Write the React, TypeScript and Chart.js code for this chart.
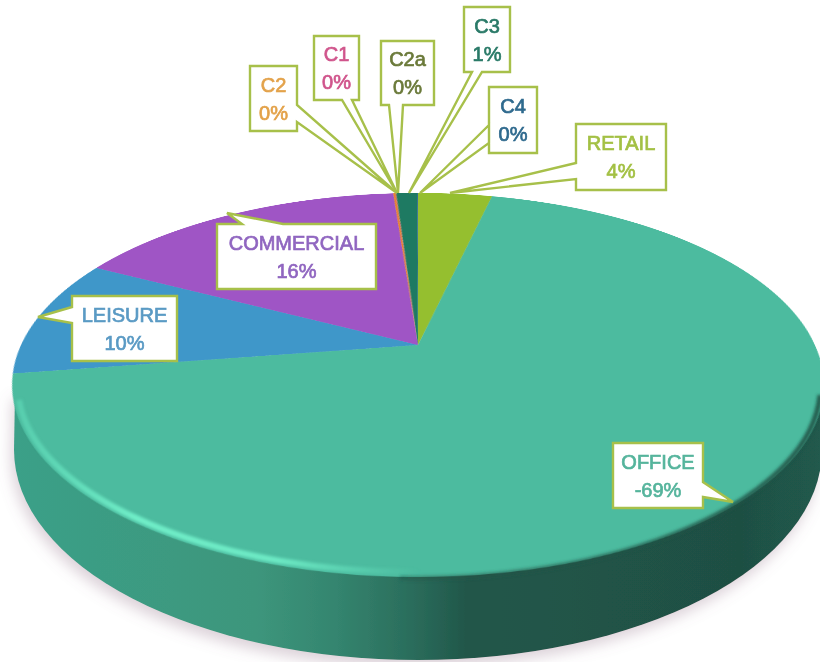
import React, { useEffect, useRef } from "react";
import { Chart, registerables } from "chart.js";

Chart.register(...registerables);

// ---- data (clockwise from 12 o'clock) ----
const categories = ["RETAIL", "OFFICE", "LEISURE", "COMMERCIAL", "C2", "C1", "C2a", "C3", "C4"];
const shares = [3.6, 69, 10, 16.2, 0.1, 0.03, 0.03, 1, 0.04];
const percentLabels = ["4%", "-69%", "10%", "16%", "0%", "0%", "0%", "1%", "0%"];
const sliceColors = ["#95bf2f", "#4cbb9f", "#3f97c9", "#9f55c5", "#e8842a", "#d0558c", "#6b7a3a", "#1e7a62", "#2f6a8e"];
const textColors = ["#a3c044", "#55b49c", "#5a9ac4", "#9066c0", "#e3a24a", "#d0558c", "#6b7a3a", "#2a7a68", "#2f6a8e"];

// ---- callout geometry ----
type Callout = { box: [number, number, number, number]; wedge: number[][] };
const callouts: Record<string, Callout> = {
  RETAIL: { box: [576, 124, 666, 190], wedge: [[576, 179], [450, 193], [576, 163]] },
  OFFICE: { box: [613, 443, 703, 508], wedge: [[703, 482], [733, 502], [703, 497]] },
  LEISURE: { box: [72, 296, 177, 361], wedge: [[72, 323], [38, 317], [72, 307]] },
  COMMERCIAL: { box: [217, 224, 376, 289], wedge: [[242, 224], [227, 213], [283, 224]] },
  C2: { box: [250, 66, 297, 131], wedge: [[297, 105], [397, 193], [297, 122]] },
  C1: { box: [314, 36, 359, 100], wedge: [[352, 100], [397, 193], [342, 100]] },
  C2a: { box: [381, 41, 434, 105], wedge: [[403, 105], [398, 193], [389, 105]] },
  C3: { box: [464, 7, 510, 72], wedge: [[482, 72], [409, 193], [472, 72]] },
  C4: { box: [489, 87, 537, 153], wedge: [[489, 125], [420, 193], [489, 143]] },
};

const RADIUS = 397;
const APEX_X = 418;
const APEX_Y = 345;

function calloutPath(c: Callout): string {
  const [x0, y0, x1, y1] = c.box;
  const [a, tip, b] = c.wedge;
  const pts: number[][] = [];
  const corners = [[x0, y0], [x1, y0], [x1, y1], [x0, y1]];
  const onTop = a[1] === y0;
  const onRight = a[0] === x1;
  const onBottom = a[1] === y1;
  pts.push(corners[0]);
  if (onTop) pts.push(a, tip, b);
  pts.push(corners[1]);
  if (onRight) pts.push(a, tip, b);
  pts.push(corners[2]);
  if (onBottom) pts.push(a, tip, b);
  pts.push(corners[3]);
  if (!onTop && !onRight && !onBottom) pts.push(a, tip, b);
  return "M" + pts.map((p) => p.join(" ")).join("L") + "Z";
}

export default function App() {
  const ref = useRef<HTMLCanvasElement | null>(null);

  useEffect(() => {
    document.body.style.margin = "0";
    const chart = new Chart(ref.current as HTMLCanvasElement, {
      type: "pie",
      data: {
        labels: categories,
        datasets: [{ data: shares, backgroundColor: sliceColors, borderWidth: 0, hoverOffset: 0 }],
      },
      options: {
        animation: false,
        responsive: false,
        devicePixelRatio: 2,
        radius: RADIUS,
        layout: { padding: 0 },
        events: [],
        plugins: { legend: { display: false }, tooltip: { enabled: false } },
      } as any,
    });
    return () => chart.destroy();
  }, []);

  return (
    <div
      style={{
        position: "absolute",
        left: 0,
        top: 0,
        width: 820,
        height: 662,
        overflow: "hidden",
        background: "#fff",
        filter: "blur(0.6px)",
        fontFamily: "'Liberation Sans', Arial, sans-serif",
      }}
    >
      {/* side wall of the disc */}
      <svg width={820} height={662} style={{ position: "absolute", left: 0, top: 0 }}>
        <defs>
          <linearGradient id="wall" gradientUnits="userSpaceOnUse" x1="13" y1="0" x2="821" y2="0">
            <stop offset="0" stopColor="#3aa088" />
            <stop offset="0.3" stopColor="#3d967c" />
            <stop offset="0.4" stopColor="#34856f" />
            <stop offset="0.5" stopColor="#2a6b5a" />
            <stop offset="0.56" stopColor="#21574a" />
            <stop offset="0.9" stopColor="#1f4f43" />
            <stop offset="1" stopColor="#205a4d" />
          </linearGradient>
          <filter id="soft" x="-10%" y="-10%" width="120%" height="120%">
            <feDropShadow dx="-3" dy="7" stdDeviation="7" floodColor="#8a6a80" floodOpacity="0.3" />
          </filter>
        </defs>
        <path
          d="M15 392 L14 450 A404 210 0 0 0 822 450 L822 385 Z"
          fill="url(#wall)"
          filter="url(#soft)"
        />
      </svg>

      {/* the pie, laid back in perspective */}
      <canvas
        ref={ref}
        width={RADIUS * 2}
        height={RADIUS * 2}
        style={{
          position: "absolute",
          left: APEX_X - RADIUS,
          top: APEX_Y - RADIUS,
          transformOrigin: "50% 50%",
          transform: "perspective(1689px) rotateX(62.44deg)",
        }}
      />

      {/* rim light and right-hand soft edge, callouts */}
      <svg width={820} height={662} style={{ position: "absolute", left: 0, top: 0 }}>
        <defs>
          <linearGradient id="rim" gradientUnits="userSpaceOnUse" x1="15" y1="0" x2="420" y2="0">
            <stop offset="0" stopColor="#66e4c0" stopOpacity="0.45" />
            <stop offset="0.3" stopColor="#70eec8" stopOpacity="1" />
            <stop offset="0.65" stopColor="#70eec8" stopOpacity="0.9" />
            <stop offset="1" stopColor="#66e4c0" stopOpacity="0" />
          </linearGradient>
          <linearGradient id="edge" gradientUnits="userSpaceOnUse" x1="380" y1="0" x2="820" y2="0">
            <stop offset="0" stopColor="#1f5346" stopOpacity="0.4" />
            <stop offset="1" stopColor="#1f5346" stopOpacity="0.9" />
          </linearGradient>
          <filter id="b2"><feGaussianBlur stdDeviation="1.8" /></filter>
        </defs>
        <path d="M19 400 A398 187 0 0 0 420 572" fill="none" stroke="url(#rim)" strokeWidth={6} filter="url(#b2)" />
        <path d="M400 578 A404 192 0 0 0 820 395" fill="none" stroke="url(#edge)" strokeWidth={5} filter="url(#b2)" />
        {categories.map((name) => (
          <path
            key={name}
            d={calloutPath(callouts[name])}
            fill="#ffffff"
            stroke="#a7c04a"
            strokeWidth={2.4}
            strokeLinejoin="miter"
          />
        ))}
      </svg>

      {/* callout texts */}
      {categories.map((name, i) => {
        const [x0, y0, x1, y1] = callouts[name].box;
        return (
          <div
            key={name}
            style={{
              position: "absolute",
              left: x0 - 10,
              top: y0,
              width: x1 - x0 + 20,
              height: y1 - y0,
              display: "flex",
              flexDirection: "column",
              justifyContent: "center",
              alignItems: "center",
              fontSize: 20,
              lineHeight: "28px",
              color: textColors[i],
              WebkitTextStroke: `0.7px ${textColors[i]}`,
              whiteSpace: "nowrap",
            }}
          >
            <span>{name}</span>
            <span>{percentLabels[i]}</span>
          </div>
        );
      })}
    </div>
  );
}
